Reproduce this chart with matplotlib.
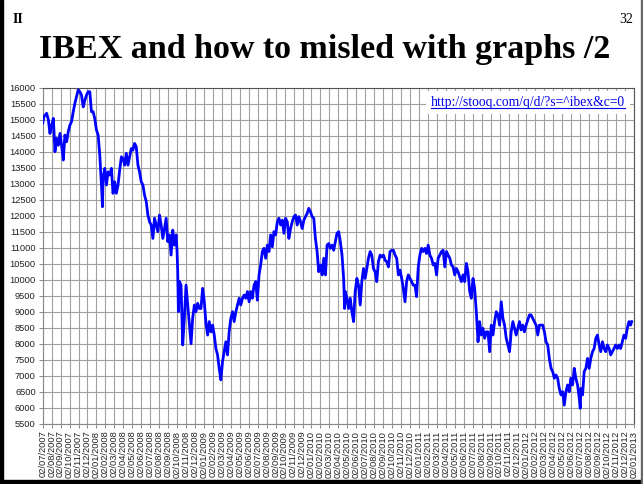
import matplotlib
matplotlib.use("Agg")
import matplotlib.pyplot as plt
from matplotlib.patches import Rectangle
from matplotlib.lines import Line2D

# months since 02/07/2007 and IBEX close
months = [
    0.00, 0.15, 0.44, 0.63, 0.81, 1.00, 1.19, 1.37, 1.56, 1.74, 1.93, 2.11, 2.30, 2.48, 2.67, 2.85,
    3.04, 3.22, 3.41, 3.59, 3.78, 3.96, 4.15, 4.33, 4.52, 4.70, 4.89, 5.07, 5.26, 5.44, 5.63, 5.81,
    6.00, 6.19, 6.37, 6.56, 6.67, 6.74, 6.93, 7.11, 7.30, 7.48, 7.67, 7.85, 8.04, 8.22, 8.41, 8.59,
    8.78, 8.96, 9.15, 9.33, 9.52, 9.70, 9.89, 10.07, 10.26, 10.44, 10.63, 10.81, 11.00, 11.19, 11.37,
    11.56, 11.74, 11.93, 12.11, 12.30, 12.48, 12.67, 12.85, 13.04, 13.22, 13.41, 13.59, 13.78, 13.96,
    14.15, 14.33, 14.52, 14.70, 14.89, 15.00, 15.07, 15.15, 15.26, 15.44, 15.63, 15.81, 16.00, 16.19,
    16.37, 16.56, 16.74, 16.93, 17.11, 17.30, 17.48, 17.67, 17.85, 18.04, 18.22, 18.41, 18.59, 18.78,
    18.96, 19.15, 19.33, 19.52, 19.70, 19.89, 20.07, 20.26, 20.44, 20.63, 20.81, 21.00, 21.19, 21.37,
    21.56, 21.74, 21.93, 22.11, 22.30, 22.48, 22.67, 22.85, 23.04, 23.22, 23.41, 23.59, 23.78, 23.96,
    24.15, 24.33, 24.52, 24.70, 24.89, 25.07, 25.26, 25.44, 25.63, 25.81, 26.00, 26.19, 26.37, 26.56,
    26.74, 26.93, 27.11, 27.30, 27.48, 27.67, 27.85, 28.04, 28.22, 28.41, 28.59, 28.78, 28.96, 29.15,
    29.33, 29.52, 29.70, 29.89, 30.07, 30.26, 30.44, 30.63, 30.81, 31.00, 31.19, 31.37, 31.56, 31.74,
    31.93, 32.11, 32.30, 32.48, 32.67, 32.85, 33.04, 33.22, 33.41, 33.59, 33.70, 33.77, 33.96, 34.14,
    34.33, 34.51, 34.70, 34.88, 35.07, 35.25, 35.44, 35.62, 35.81, 35.99, 36.18, 36.36, 36.55, 36.73,
    36.92, 37.10, 37.29, 37.47, 37.66, 37.84, 38.03, 38.21, 38.40, 38.59, 38.77, 38.96, 39.14, 39.33,
    39.51, 39.70, 39.88, 40.07, 40.25, 40.44, 40.62, 40.81, 40.99, 41.18, 41.36, 41.55, 41.73, 41.92,
    42.10, 42.29, 42.47, 42.66, 42.84, 43.03, 43.21, 43.40, 43.59, 43.77, 43.96, 44.14, 44.33, 44.51,
    44.70, 44.88, 45.07, 45.25, 45.44, 45.62, 45.81, 45.99, 46.18, 46.36, 46.55, 46.73, 46.92, 47.10,
    47.29, 47.47, 47.66, 47.84, 48.03, 48.21, 48.40, 48.59, 48.77, 48.96, 49.14, 49.33, 49.51, 49.70,
    49.89, 50.07, 50.26, 50.44, 50.63, 50.81, 51.00, 51.18, 51.37, 51.55, 51.74, 51.92, 52.11, 52.29,
    52.48, 52.66, 52.85, 53.03, 53.22, 53.40, 53.59, 53.77, 53.96, 54.14, 54.33, 54.51, 54.70, 54.88,
    55.07, 55.26, 55.44, 55.63, 55.81, 56.00, 56.18, 56.37, 56.55, 56.74, 56.92, 57.11, 57.29, 57.48,
    57.66, 57.85, 58.03, 58.22, 58.40, 58.59, 58.77, 58.96, 59.14, 59.33, 59.51, 59.70, 59.89, 60.00,
    60.07, 60.26, 60.44, 60.63, 60.81, 61.00, 61.18, 61.37, 61.55, 61.74, 61.92, 62.11, 62.29, 62.48,
    62.66, 62.85, 63.03, 63.22, 63.40, 63.59, 63.77, 63.96, 64.14, 64.33, 64.51, 64.70, 64.88, 65.07,
    65.25, 65.44, 65.62, 65.74,
]
ibex = [
    14900, 15100, 15200, 15000, 14570, 14830, 15040, 14000, 14420, 14200, 14570, 14200, 13740, 14520, 14310, 14620,
    14830, 14940, 15250, 15510, 15720, 15930, 15875, 15770, 15400, 15600, 15770, 15875, 15875, 15250, 15250, 15040,
    14680, 14520, 13900, 12960, 12280, 13170, 13480, 12960, 13370, 13270, 13480, 12700, 13060, 12700, 12960, 13420,
    13840, 13790, 13580, 13950, 13580, 13840, 14100, 14050, 14260, 14160, 13580, 13370, 13060, 12960, 12640,
    12440, 12020, 11810, 11710, 11290, 11920, 11710, 11500, 12020, 11710, 11290, 11600, 11920, 11190,
    11400, 10770, 11550, 11080, 11400, 10880, 10250, 9000, 9940, 9830, 7960, 8790, 9830, 9210,
    8600, 8000, 8800, 9210, 9000, 9260, 9100, 9100, 9730, 9310, 8640, 8270, 8690, 8370,
    8580, 8270, 7850, 7650, 7230, 6870, 7440, 7750, 8060, 7650, 8370, 8790, 9000, 8690,
    9000, 9210, 9420, 9210, 9420, 9520, 9420, 9630, 9310, 9630, 9420, 9830, 9940, 9360,
    10150, 10460, 10880, 10980, 10670, 11080, 10880, 11400, 11030, 11500, 11400, 11810, 11920, 11710,
    11860, 11450, 11920, 11810, 11290, 11600, 11810, 11970, 12020, 11710, 11970, 11810, 11600, 11860,
    11970, 12070, 12230, 12120, 11970, 11920, 11290, 10880, 10250, 10460, 10150, 10670, 10150, 11080,
    11130, 10980, 11080, 10920, 11190, 11450, 11500, 11190, 10770, 10040, 9100, 9630, 9420, 9100,
    9420, 9000, 8690, 9630, 10040, 9830, 9210, 9940, 10350, 10040, 10350, 10670, 10880, 10770,
    10350, 10250, 9940, 10560, 10770, 10710, 10770, 10610, 10560, 10400, 10880, 10920, 10920, 10770,
    10670, 10150, 10300, 10040, 9730, 9310, 9940, 10150, 10040, 9940, 9830, 9830, 9470, 10400,
    10770, 10980, 10880, 10980, 10820, 11080, 10770, 10670, 10460, 10510, 10150, 10670, 10770, 10880,
    10920, 10400, 10880, 10770, 10670, 10460, 10400, 10150, 10350, 10250, 10090, 9940, 10150, 9940,
    10510, 10250, 9630, 9420, 10040, 9730, 9000, 8060, 8690, 8270, 8480, 8170, 8370, 8370,
    7750, 8580, 8270, 8690, 9000, 8900, 8580, 9310, 8790, 8580, 8170, 7960, 7750, 8370,
    8690, 8480, 8270, 8480, 8690, 8430, 8580, 8370, 8580, 8740, 8900, 8900, 8790, 8690,
    8580, 8270, 8580, 8580, 8580, 8370, 8060, 7960, 7540, 7230, 7130, 6920, 7020, 6920,
    6600, 6400, 6500, 6080, 6500, 6710, 6500, 6920, 6710, 7230, 6920, 6710, 6290, 5980,
    6600, 6400, 7130, 7230, 7540, 7230, 7540, 7750, 7850, 8170, 8270, 7960, 7750, 8060,
    7850, 7750, 7960, 7850, 7650, 7750, 7850, 7960, 7850, 7960, 7850, 8060, 8270, 8170,
    8480, 8690, 8580, 8690,
]

# tick labels: 02/07/2007 ... 02/01/2013
tick_labels = []
for k in range(67):
    mm = (7 + k - 1) % 12 + 1
    yy = 2007 + (7 + k - 1) // 12
    tick_labels.append("02/%02d/%d" % (mm, yy))
y_ticks = list(range(5500, 16001, 500))

url = "http://stooq.com/q/d/?s=^ibex&c=0"

fig = plt.figure(figsize=(6.43, 4.84), dpi=100)
ax = fig.add_axes([0.0664, 0.1246, 0.9196, 0.6942])

ax.plot(months, ibex, color="#0000ff", lw=2.0, zorder=3)

ax.set_xlim(0, 66)
ax.set_ylim(5500, 16000)
ax.set_xticks(range(67))
ax.set_xticklabels(tick_labels, rotation=90, fontsize=6.7, family="Liberation Sans", color="#222222")
ax.set_yticks(y_ticks)
ax.set_yticklabels([str(v) for v in y_ticks], fontsize=6.7, family="Liberation Sans", color="#222222")
ax.tick_params(axis="both", length=3, width=0.7, color="#888888", pad=2)
ax.grid(True, color="#a0a0a0", lw=0.8, zorder=1)
for side in ["left", "bottom"]:
    ax.spines[side].set_color("#888888")
for side in ["top", "right"]:
    ax.spines[side].set_color("#555555")

t = ax.text(0.985, 0.975, url, transform=ax.transAxes, ha="right", va="top",
            fontsize=9.8, family="Liberation Serif", color="#0000ee", zorder=5,
            bbox=dict(facecolor="white", edgecolor="none", pad=3.5))

# title and slide decorations
fig.text(0.505, 0.881, "IBEX and how to misled with graphs /2", ha="center", va="baseline",
         fontsize=24.5, fontweight="bold", family="Liberation Serif")
fig.text(0.019, 0.96, "II", ha="left", va="center", fontsize=10, fontweight="bold", family="Liberation Serif")
fig.text(0.985, 0.96, "32", ha="right", va="center", fontsize=10, family="Liberation Serif")

fig.patches.append(Rectangle((0, 0), 0.005, 1, transform=fig.transFigure, color="black", zorder=10))
fig.patches.append(Rectangle((0, 0), 1, 0.008, transform=fig.transFigure, color="black", zorder=10))
fig.patches.append(Rectangle((0.997, 0), 0.003, 1, transform=fig.transFigure, color="#666666", zorder=10))

# underline the url
fig.canvas.draw()
bb = t.get_window_extent()
W, H = fig.bbox.width, fig.bbox.height
fig.add_artist(Line2D([bb.x0 / W, bb.x1 / W], [(bb.y0 + 1) / H, (bb.y0 + 1) / H],
                      transform=fig.transFigure, color="#0000ee", lw=0.8, zorder=6))

fig.savefig("out.png", dpi=100)
